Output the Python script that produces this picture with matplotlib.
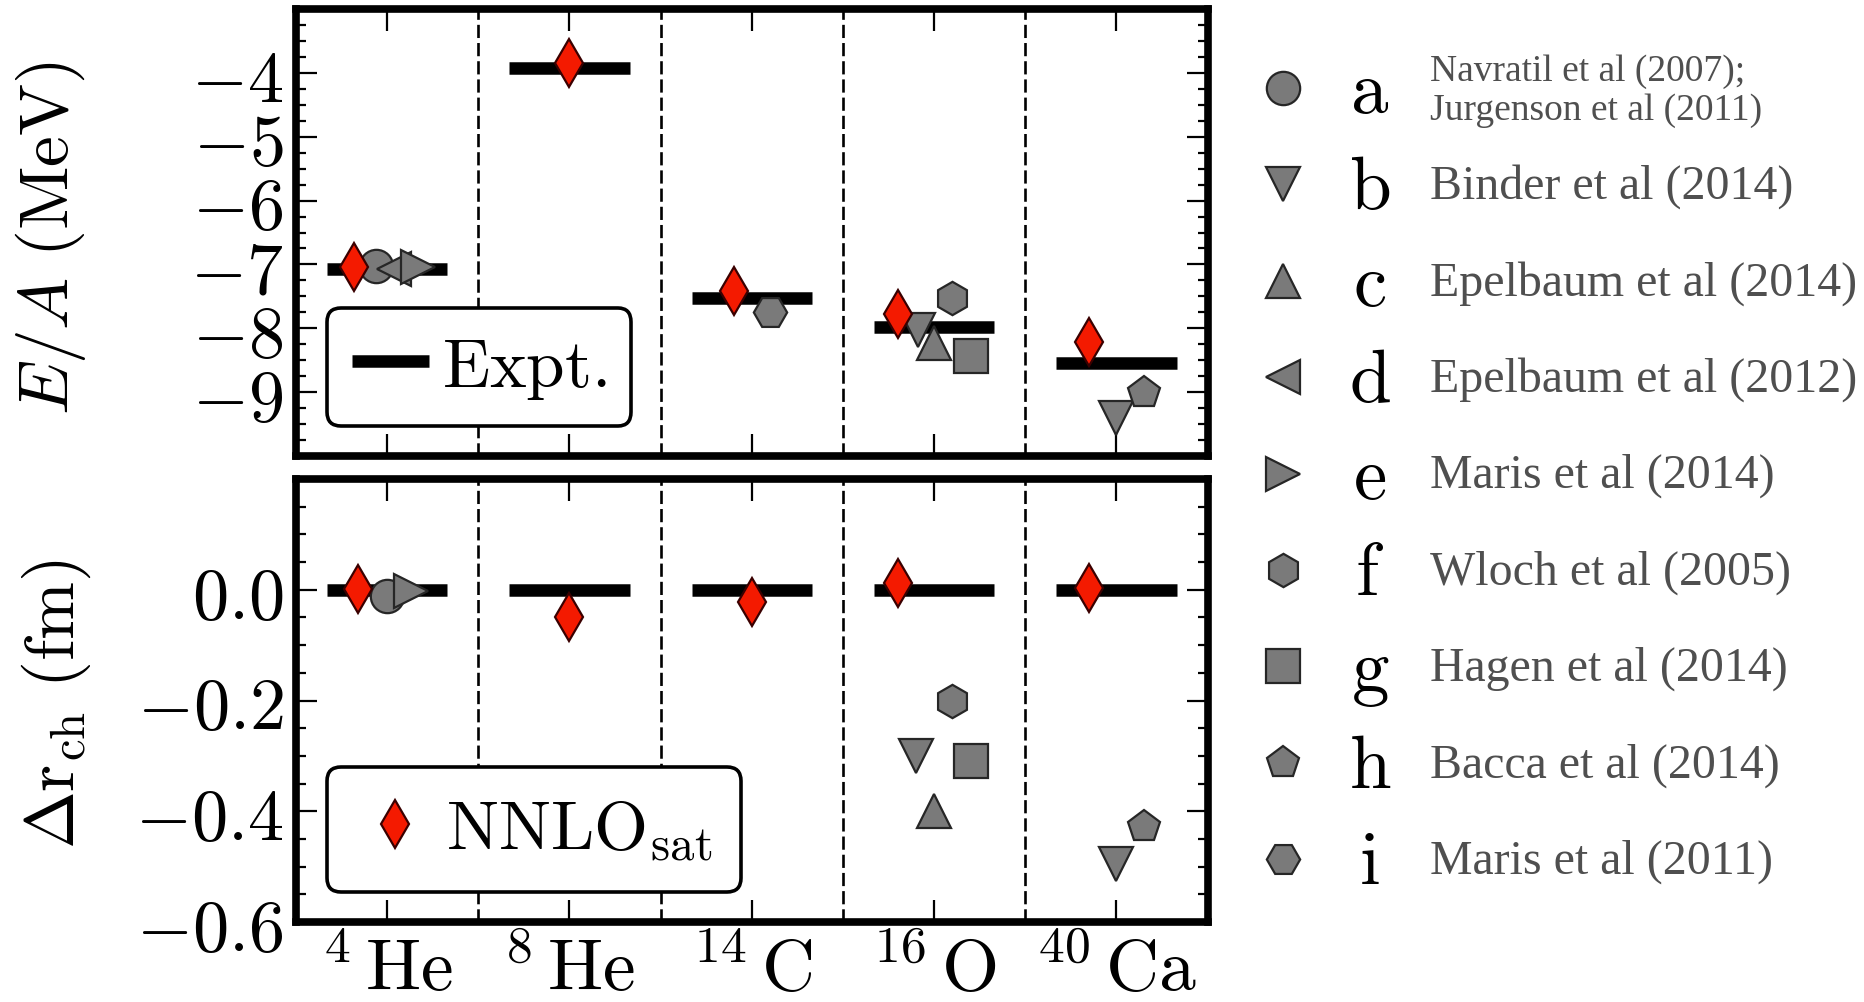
import numpy as np
import matplotlib
matplotlib.use("Agg")
import matplotlib.pyplot as plt
from matplotlib.ticker import MultipleLocator

plt.rcParams["mathtext.fontset"] = "cm"
plt.rcParams["font.family"] = ["DejaVu Serif"]
plt.rcParams["lines.scale_dashes"] = False

# ---------------------------------------------------------------- data
mass_numbers = [4, 8, 14, 16, 40]
elements = ["He", "He", "C", "O", "Ca"]

# experiment: binding energy per nucleon (MeV) and charge-radius offset (fm)
expt_EA = [-7.07, -3.93, -7.53, -7.98, -8.54]
expt_drch = [0.0, 0.0, 0.0, 0.0, 0.0]

# NNLO_sat results
nnlo_EA = [-7.04, -3.85, -7.41, -7.77, -8.21]
nnlo_drch = [0.002, -0.049, -0.023, 0.012, 0.004]

# other calculations: nucleus index, E/A (MeV), delta r_ch (fm; None = not available)
a_nuc, a_EA, a_drch = [0], [-7.02], [-0.012]
b_nuc, b_EA, b_drch = [3, 4], [-8.03, -9.41], [-0.301, -0.496]
c_nuc, c_EA, c_drch = [3], [-8.23], [-0.400]
d_nuc, d_EA, d_drch = [0], [-7.07], [None]
e_nuc, e_EA, e_drch = [0], [-7.04], [-0.003]
f_nuc, f_EA, f_drch = [3], [-7.53], [-0.200]
g_nuc, g_EA, g_drch = [3], [-8.44], [-0.310]
h_nuc, h_EA, h_drch = [4], [-9.02], [-0.428]
i_nuc, i_EA, i_drch = [2], [-7.75], [None]

letters = ["a", "b", "c", "d", "e", "f", "g", "h", "i"]
references = [
    "Navratil et al (2007);\nJurgenson et al (2011)",
    "Binder et al (2014)",
    "Epelbaum et al (2014)",
    "Epelbaum et al (2012)",
    "Maris et al (2014)",
    "Wloch et al (2005)",
    "Hagen et al (2014)",
    "Bacca et al (2014)",
    "Maris et al (2011)",
]

# ---------------------------------------------------------------- layout / style
markers = ["o", "v", "^", "<", ">", "h", "s", "p", "H"]
calc_nuc = [a_nuc, b_nuc, c_nuc, d_nuc, e_nuc, f_nuc, g_nuc, h_nuc, i_nuc]
calc_EA = [a_EA, b_EA, c_EA, d_EA, e_EA, f_EA, g_EA, h_EA, i_EA]
calc_drch = [a_drch, b_drch, c_drch, d_drch, e_drch, f_drch, g_drch, h_drch, i_drch]

# horizontal offsets within each nucleus column (so overlapping symbols stay visible)
EA_dx = [[-0.06], [-0.09, 0.0], [0.0], [0.04], [0.167], [0.10], [0.20], [0.15], [0.10]]
drch_dx = [[0.0], [-0.10, 0.0], [0.0], [0.0], [0.13], [0.10], [0.20], [0.15], [0.0]]
nnlo_EA_dx = [-0.18, 0.0, -0.10, -0.20, -0.15]
nnlo_drch_dx = [-0.16, 0.0, 0.0, -0.20, -0.15]

GRAY = "#7a7a7a"
GRAY_EDGE = "#262626"
RED = "#f41a00"
RED_EDGE = "#3a0000"
TEXT_GRAY = "#4f4f4f"
MS = 24

W, H, DPI = 1864, 1003, 100
fig = plt.figure(figsize=(W / DPI, H / DPI), dpi=DPI)

left, right = 296, 1207.5
ax1 = fig.add_axes([left / W, 1 - 457 / H, (right - left) / W, (457 - 10) / H])
ax2 = fig.add_axes([left / W, 1 - 923 / H, (right - left) / W, (923 - 480) / H])

xs = np.arange(len(mass_numbers))
iso_labels = [r"$^{%d}\,\mathrm{%s}$" % (m, s) for m, s in zip(mass_numbers, elements)]

for ax in (ax1, ax2):
    ax.set_xlim(-0.5, 4.5)
    for sp in ax.spines.values():
        sp.set_linewidth(5.5)
    ax.set_xticks(xs)
    ax.tick_params(which="both", direction="in", top=True, right=True, width=1.6)
    ax.tick_params(axis="y", which="major", length=15, pad=9, labelsize=52)
    ax.tick_params(axis="y", which="minor", length=7)
    ax.tick_params(axis="x", which="major", length=16, pad=8, labelsize=53)
    for xb in xs[:-1] + 0.5:
        ax.axvline(xb, color="k", lw=1.9, ls=(0, (9.5, 3.6)), zorder=1)

# ---- upper panel: E/A
ax1.set_ylim(-10, -3)
ticks1 = [-9, -8, -7, -6, -5, -4]
ax1.set_yticks(ticks1)
ax1.set_yticklabels([r"$%d$" % t for t in ticks1])
ax1.yaxis.set_minor_locator(MultipleLocator(0.25))
ax1.tick_params(labelbottom=False)

# ---- lower panel: delta r_ch
ax2.set_ylim(-0.6, 0.2)
ticks2 = [0.0, -0.2, -0.4, -0.6]
ax2.set_yticks(ticks2)
ax2.set_yticklabels([r"$%.1f$" % t for t in ticks2])
ax2.yaxis.set_minor_locator(MultipleLocator(0.05))
ax2.set_xticklabels(iso_labels)


def draw_panel(ax, expt, nnlo, nnlo_dx, calc, calc_dx):
    bar = None
    for x, v in zip(xs, expt):
        (bar,) = ax.plot([x - 0.33, x + 0.33], [v, v], color="k", lw=9,
                         solid_capstyle="butt", zorder=2)
    for k in range(len(markers)):
        px, py = [], []
        for n, v, dx in zip(calc_nuc[k], calc[k], calc_dx[k]):
            if v is None:
                continue
            px.append(xs[n] + dx)
            py.append(v)
        if px:
            ax.plot(px, py, ls="none", marker=markers[k], ms=MS, mfc=GRAY,
                    mec=GRAY_EDGE, mew=1.6, zorder=3)
    (dia,) = ax.plot(xs + np.array(nnlo_dx), nnlo, ls="none", marker="d", ms=MS,
                     mfc=RED, mec=RED_EDGE, mew=1.6, zorder=4)
    return bar, dia


bar1, _ = draw_panel(ax1, expt_EA, nnlo_EA, nnlo_EA_dx, calc_EA, EA_dx)
_, dia2 = draw_panel(ax2, expt_drch, nnlo_drch, nnlo_drch_dx, calc_drch, drch_dx)

leg_kw = dict(loc="lower left", borderaxespad=0, fontsize=50, handlelength=1.11,
              handletextpad=0.18, fancybox=True, framealpha=1,
              edgecolor="k", numpoints=1)
leg1 = ax1.legend([bar1], [r"$\mathrm{Expt.}$"], bbox_to_anchor=(0.034, 0.068),
                  borderpad=0.36, **leg_kw)
leg2 = ax2.legend([dia2], [r"$\mathrm{NNLO}_{\mathrm{sat}}$"], bbox_to_anchor=(0.034, 0.068),
                  borderpad=0.42, **leg_kw)
for lg in (leg1, leg2):
    lg.get_frame().set_linewidth(2.6)
    lg.set_zorder(5)

# axis labels
lab1 = ax1.set_ylabel(r"$E/A\ \mathrm{(MeV)}$", fontsize=50)
lab2 = ax2.set_ylabel(r"$\Delta\mathrm{r}_{\mathrm{ch}}\ \mathrm{(fm)}$", fontsize=50)
for lab in (lab1, lab2):
    lab.set_rotation_mode("default")
    lab.set_horizontalalignment("center")
    lab.set_verticalalignment("center")
ax1.yaxis.set_label_coords((51 - left) / (right - left), (457 - 238) / 447)
ax2.yaxis.set_label_coords((56 - left) / (right - left), (923 - 704) / 443)

# ---- key of the other calculations, on the right
key = fig.add_axes([1240 / W, 1 - 908.2 / H, 624 / W, (908.2 - 40.8) / H])
key.set_xlim(0, 1)
key.set_ylim(len(letters) - 0.5, -0.5)
key.axis("off")
rows = np.arange(len(letters))
for r, m, let, ref in zip(rows, markers, letters, references):
    key.plot([0.069], [r], ls="none", marker=m, ms=MS, mfc=GRAY, mec=GRAY_EDGE, mew=1.6)
    key.text(0.208, r + 0.25, r"$\mathrm{%s}$" % let, fontsize=54, ha="center",
             va="baseline", color="k")
    if "\n" in ref:
        key.text(0.3045, r + 0.02, ref, fontsize=27, ha="left", va="center",
                 color=TEXT_GRAY, family="Liberation Serif", linespacing=1.18)
    else:
        key.text(0.3045, r + 0.14, ref, fontsize=34.5, ha="left", va="baseline",
                 color=TEXT_GRAY, family="Liberation Serif")

fig.savefig("out.png", dpi=DPI)
